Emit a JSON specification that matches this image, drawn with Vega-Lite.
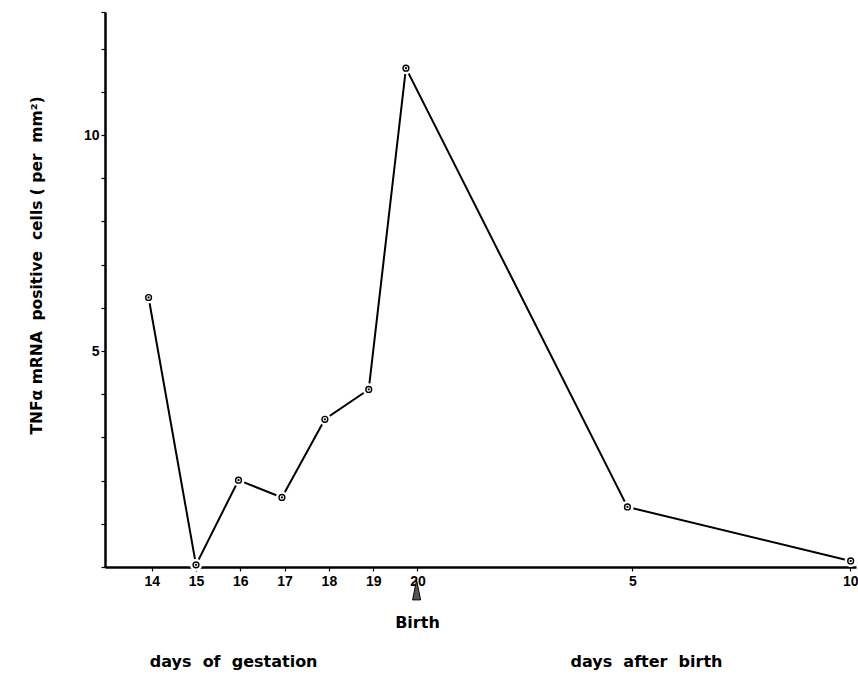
{
  "$schema": "https://vega.github.io/schema/vega-lite/v6.json",
  "width": 751,
  "height": 555,
  "autosize": {"type": "none"},
  "padding": {"left": 105, "top": 12, "right": 2, "bottom": 115},
  "background": "white",
  "config": {
    "view": {"stroke": null},
    "font": "DejaVu Sans",
    "axis": {"grid": false, "domainColor": "black", "tickColor": "black", "labelColor": "black", "titleColor": "black", "zindex": 1, "labelFont": "Liberation Sans", "labelFontWeight": "bold"}
  },
  "datasets": {
    "series": [
      {"pos": 13.93, "value": 6.24},
      {"pos": 15.0, "value": 0.05},
      {"pos": 15.96, "value": 2.01},
      {"pos": 16.94, "value": 1.61},
      {"pos": 17.91, "value": 3.42},
      {"pos": 18.9, "value": 4.11},
      {"pos": 19.74, "value": 11.55},
      {"pos": 24.74, "value": 1.39},
      {"pos": 29.78, "value": 0.14}
    ],
    "notes": [
      {"text": "Birth", "pos": 20.0, "value": -1.3},
      {"text": "days\u00a0\u00a0of\u00a0\u00a0gestation", "pos": 15.85, "value": -2.2},
      {"text": "days\u00a0\u00a0after\u00a0\u00a0birth", "pos": 25.17, "value": -2.2}
    ],
    "arrow": [
      {"pos": 19.98, "value": -0.53}
    ]
  },
  "layer": [
    {
      "data": {"name": "series"},
      "mark": {"type": "line", "color": "black", "strokeWidth": 2},
      "encoding": {
        "x": {
          "field": "pos", "type": "quantitative",
          "scale": {"domain": [12.946, 29.9], "nice": false, "zero": false},
          "axis": {
            "title": null,
            "values": [14, 15, 16, 17, 18, 19, 20, 24.85, 29.77],
            "labelExpr": "datum.value > 27 ? '10' : datum.value > 22 ? '5' : datum.label",
            "domainWidth": 2.5, "tickSize": 4, "tickWidth": 1.2,
            "labelFontSize": 14, "labelPadding": 3, "labelFlush": false, "labelOverlap": false
          }
        },
        "y": {
          "field": "value", "type": "quantitative",
          "scale": {"domain": [0, 12.85], "nice": false, "zero": false},
          "axis": {
            "title": "TNFα mRNA\u00a0\u00a0positive\u00a0\u00a0cells ( per\u00a0\u00a0mm²)",
            "values": [0, 1, 2, 3, 4, 5, 6, 7, 8, 9, 10, 11, 12, 12.85],
            "labelExpr": "datum.value == 5 || datum.value == 10 ? datum.label : ''",
            "domainWidth": 2.5, "tickSize": 4, "tickWidth": 1.2,
            "labelFontSize": 14, "labelPadding": 2,
            "titleFont": "DejaVu Sans", "titleFontSize": 15.5, "titleFontWeight": "bold", "titlePadding": 39, "titleY": 253
          }
        }
      }
    },
    {
      "data": {"name": "series"},
      "mark": {"type": "point", "filled": true, "color": "white", "size": 150, "opacity": 1},
      "encoding": {
        "x": {"field": "pos", "type": "quantitative"},
        "y": {"field": "value", "type": "quantitative"}
      }
    },
    {
      "data": {"name": "series"},
      "mark": {"type": "point", "fill": "white", "stroke": "black", "strokeWidth": 1.4, "size": 34, "opacity": 1, "fillOpacity": 1},
      "encoding": {
        "x": {"field": "pos", "type": "quantitative"},
        "y": {"field": "value", "type": "quantitative"}
      }
    },
    {
      "data": {"name": "series"},
      "mark": {"type": "point", "filled": true, "color": "black", "size": 5, "opacity": 1},
      "encoding": {
        "x": {"field": "pos", "type": "quantitative"},
        "y": {"field": "value", "type": "quantitative"}
      }
    },
    {
      "data": {"name": "arrow"},
      "mark": {"type": "point", "shape": "M0,-1L0.4,1L-0.4,1Z", "filled": true, "fill": "#555", "stroke": "black", "strokeWidth": 1, "size": 400, "opacity": 1},
      "encoding": {
        "x": {"field": "pos", "type": "quantitative"},
        "y": {"field": "value", "type": "quantitative"}
      }
    },
    {
      "data": {"name": "notes"},
      "mark": {"type": "text", "color": "black", "font": "DejaVu Sans", "fontWeight": "bold", "fontSize": 16, "align": "center", "baseline": "middle"},
      "encoding": {
        "x": {"field": "pos", "type": "quantitative"},
        "y": {"field": "value", "type": "quantitative"},
        "text": {"field": "text"}
      }
    }
  ]
}
